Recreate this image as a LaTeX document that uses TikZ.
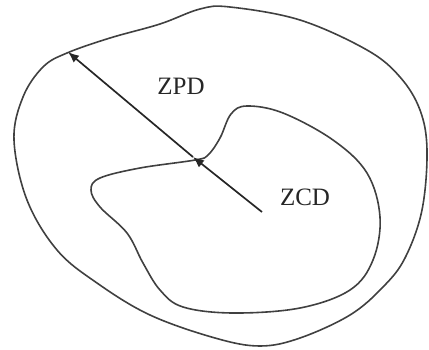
\documentclass[tikz,border=0pt]{standalone}
\usepackage{fontspec}
\setmainfont{Liberation Serif}
\usetikzlibrary{arrows.meta}
\begin{document}
\begin{tikzpicture}[x=1pt,y=-1pt,
  curve/.style={line width=1.6pt, draw=black!75},
  ray/.style={line width=1.7pt, draw=black!85, -{Latex[length=11pt,width=9pt]}},
  lab/.style={font=\fontsize{25}{27}\selectfont, inner sep=0pt, text=black!85}]
\useasboundingbox (0,0) rectangle (429,349);
\draw[curve] plot[smooth cycle, tension=0.6] coordinates {
 (67,53) (110,38) (160,24) (200,9) (230,7) (300,20) (367,50) (400,77)
 (420,110) (427,150) (422,210) (405,258) (383,287) (350,315) (300,338)
 (260,346) (215,338) (150,315) (97,283) (57,250) (27,200) (14,140)
 (23,97) (43,67)};
\draw[curve] plot[smooth cycle, tension=0.6] coordinates {
 (195,160) (208,155) (220,138) (231,114) (247,106) (283,113) (333,140)
 (367,173) (380,217) (373,260) (350,290) (300,308) (233,313) (183,307)
 (160,290) (143,263) (127,233) (100,207) (91,190) (100,178) (140,168)};
\coordinate (s) at (262,212);
\coordinate (j) at (193,157);
\coordinate (e) at (68,52);
\draw[ray] (s) -- (j);
\draw[ray] (j) -- (e);
\node[lab] (zpd) at (181,86) {ZPD};
\node[lab] (zcd) at (305,197) {ZCD};
\end{tikzpicture}
\end{document}
